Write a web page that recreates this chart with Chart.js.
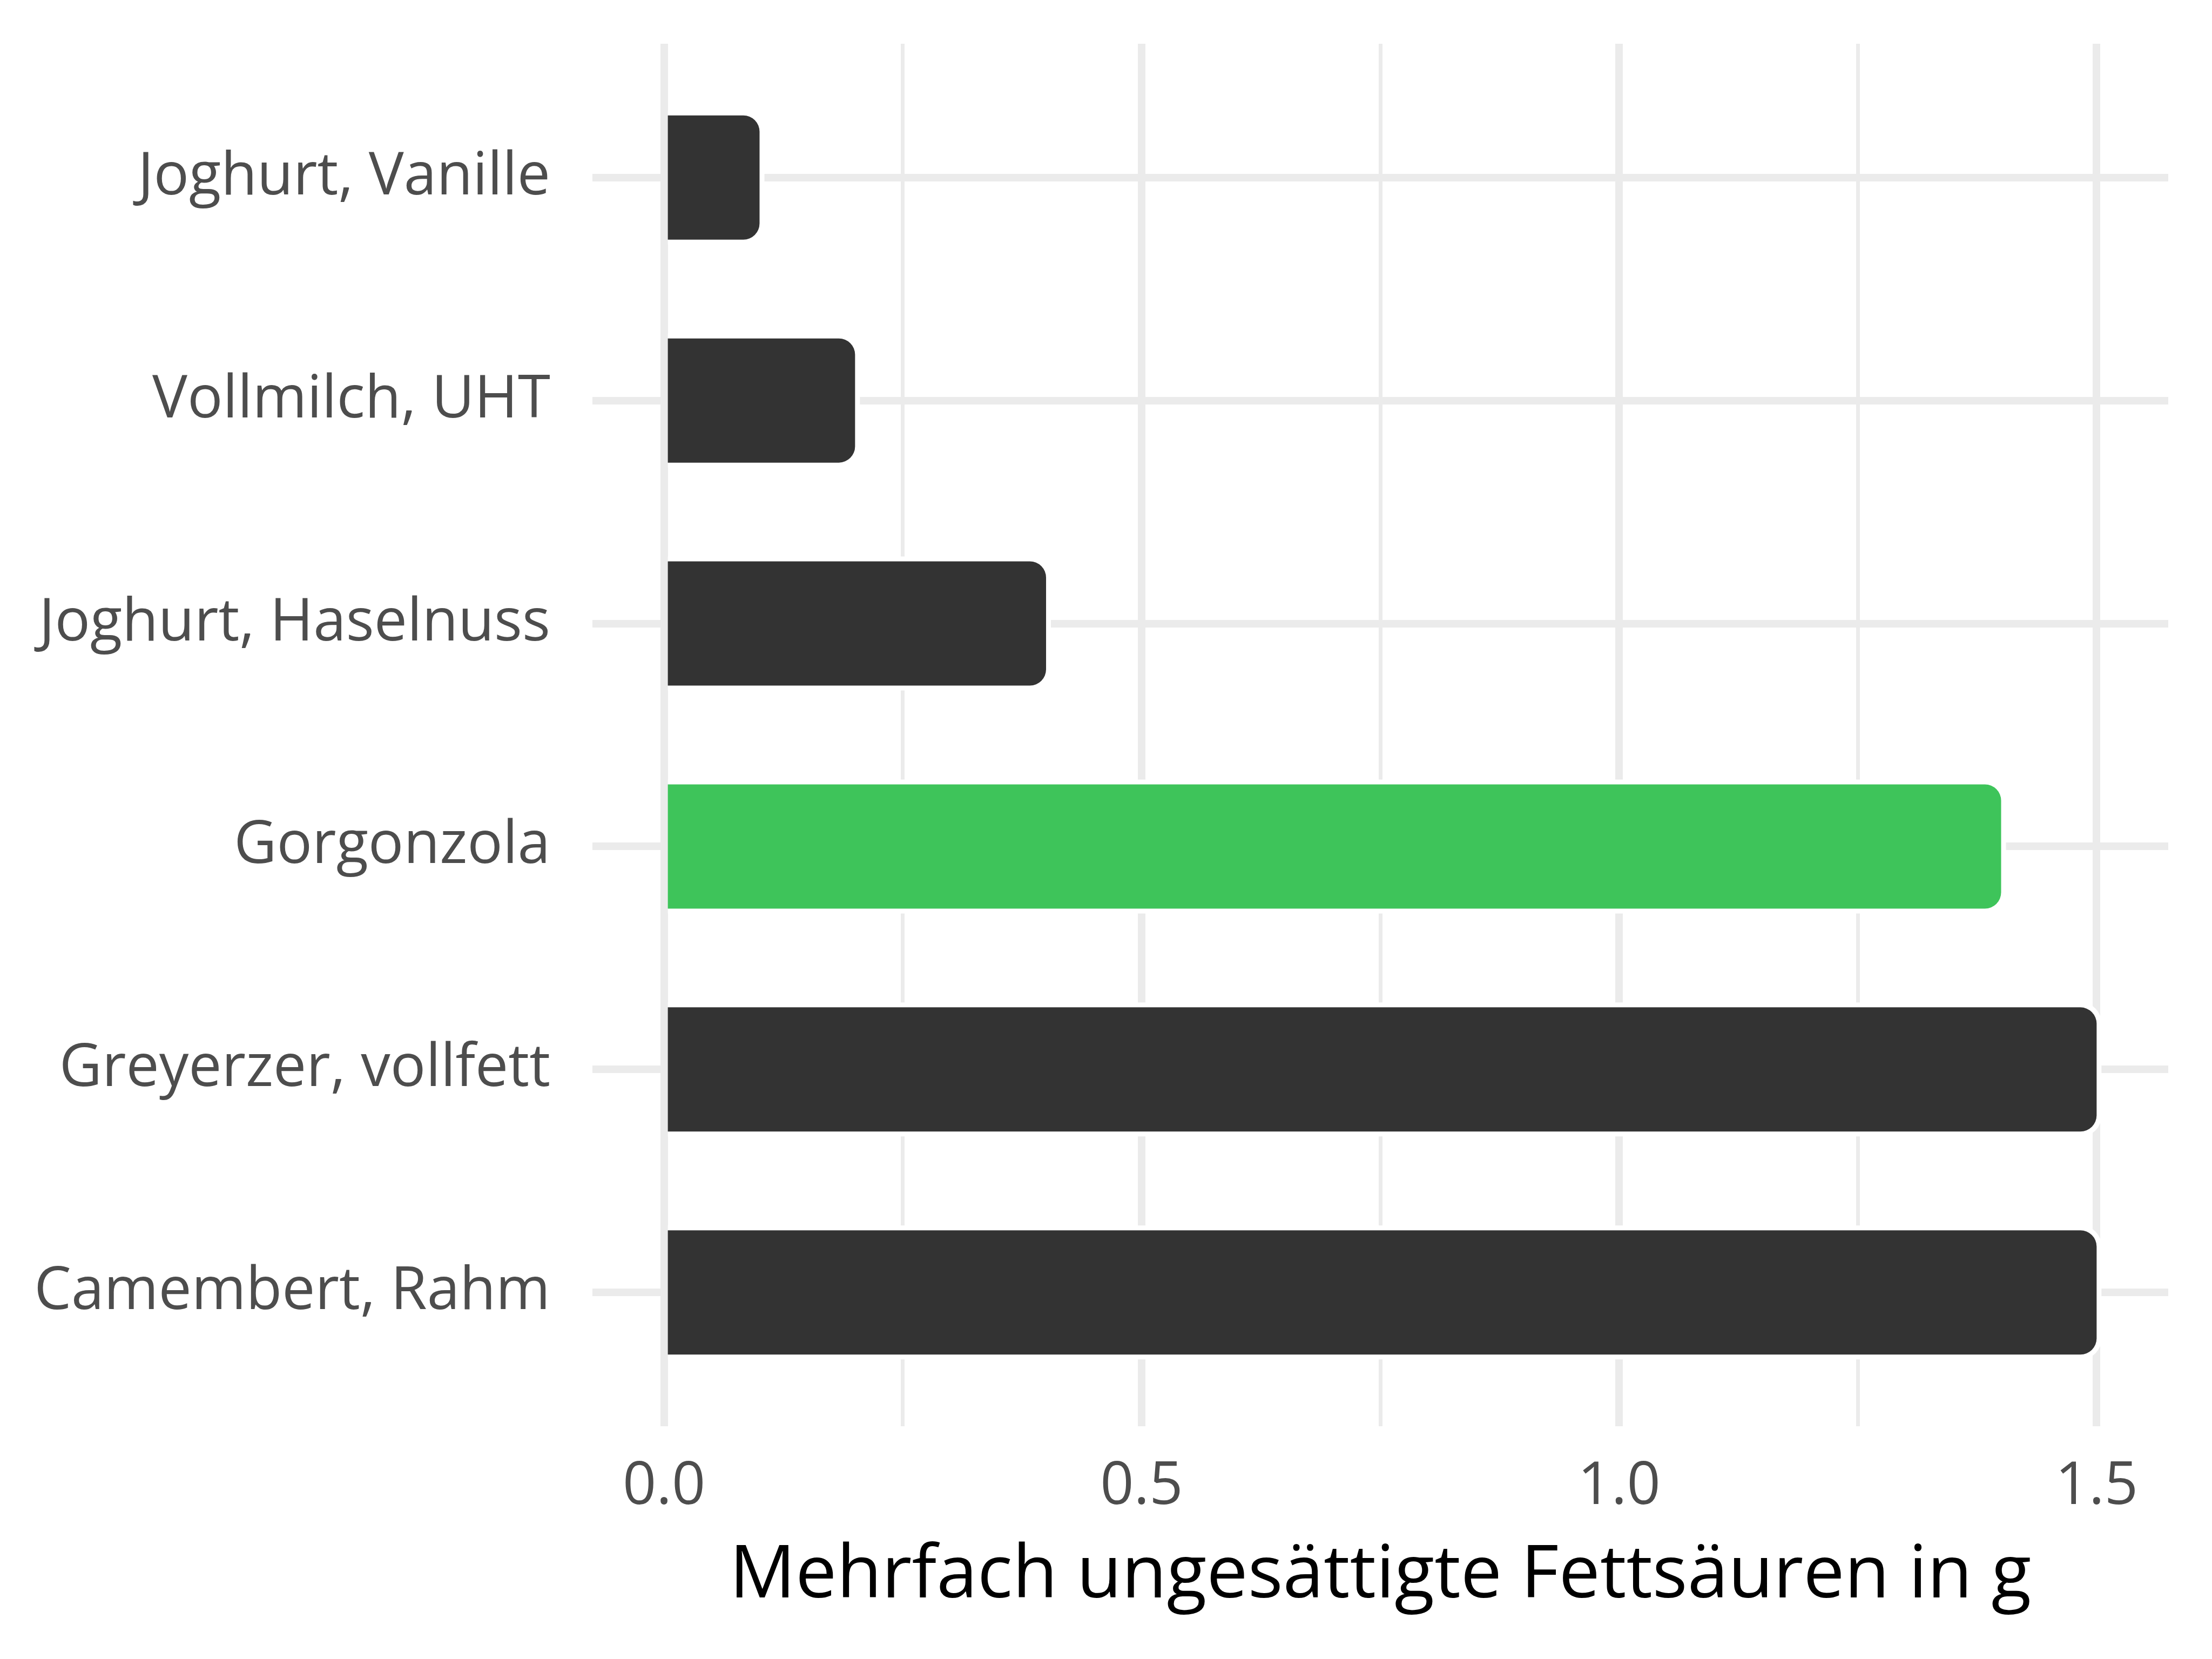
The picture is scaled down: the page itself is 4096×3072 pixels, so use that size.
<!DOCTYPE html>
<html>
<head>
<meta charset="utf-8">
<script src="https://cdn.jsdelivr.net/npm/chart.js@4/dist/chart.umd.min.js"></script>
<style>
  html, body { margin: 0; padding: 0; background: #ffffff; }
  #wrap { width: 4096px; height: 3072px; }
</style>
</head>
<body>
<div id="wrap"><canvas id="fatChart" width="4096" height="3072"></canvas></div>
<script>
// Daten
const categories = ['Joghurt, Vanille', 'Vollmilch, UHT', 'Joghurt, Haselnuss', 'Gorgonzola', 'Greyerzer, vollfett', 'Camembert, Rahm'];
const values = [0.1, 0.2, 0.4, 1.4, 1.5, 1.5];
const barColors = ['#333333', '#333333', '#333333', '#3ec45a', '#333333', '#333333'];
const xTicks = [0, 0.25, 0.5, 0.75, 1.0, 1.25, 1.5];
const xTitle = 'Mehrfach ungesättigte Fettsäuren in g';

const labelFont = { family: 'Open Sans', size: 109 };

// weisser Rand um die Balken (wie bei ggplot)
const haloPlugin = {
    id: 'halo',
    beforeDatasetsDraw(chart) {
        const ctx = chart.ctx;
        const pad = 9;
        ctx.save();
        ctx.fillStyle = '#ffffff';
        chart.getDatasetMeta(0).data.forEach(bar => {
            const p = bar.getProps(['x', 'y', 'base', 'height'], true);
            ctx.beginPath();
            ctx.roundRect(p.base, p.y - p.height / 2 - pad, p.x - p.base + pad, p.height + 2 * pad, [0, 38, 38, 0]);
            ctx.fill();
        });
        ctx.restore();
    }
};

const ctx = document.getElementById('fatChart').getContext('2d');
new Chart(ctx, {
    type: 'bar',
    data: {
        datasets: [{
            data: values.map((v, i) => ({ x: v, y: i })),
            backgroundColor: barColors,
            borderWidth: 0,
            borderRadius: 30,
            categoryPercentage: 1.0,
            barPercentage: 0.557
        }]
    },
    options: {
        indexAxis: 'y',
        responsive: false,
        animation: false,
        devicePixelRatio: 1,
        layout: { padding: { top: 81, right: 81, left: 0, bottom: 0 } },
        plugins: {
            legend: { display: false },
            tooltip: { enabled: false }
        },
        scales: {
            x: {
                type: 'linear',
                min: -0.075,
                max: 1.575,
                afterBuildTicks: axis => { axis.ticks = xTicks.map(v => ({ value: v })); },
                afterFit: axis => {
                    axis.height = 431;
                    axis.paddingLeft = 0;
                    axis.paddingRight = 0;
                },
                border: { display: false },
                grid: {
                    color: '#ebebeb',
                    drawTicks: false,
                    lineWidth: c => (c.tick && c.tick.value % 0.5 === 0) ? 14 : 7
                },
                ticks: {
                    color: '#4d4d4d',
                    font: labelFont,
                    padding: 48,
                    maxRotation: 0,
                    callback: v => v % 0.5 === 0 ? v.toFixed(1) : ''
                },
                title: {
                    display: true,
                    text: xTitle,
                    color: '#000000',
                    font: { family: 'Open Sans', size: 136 },
                    padding: { top: 0, bottom: 71 }
                }
            },
            y: {
                type: 'linear',
                reverse: true,
                offset: false,
                min: -0.6,
                max: 5.6,
                afterBuildTicks: axis => { axis.ticks = categories.map((c, i) => ({ value: i })); },
                afterFit: axis => {
                    axis.width = 1097;
                    axis.paddingTop = 0;
                    axis.paddingBottom = 0;
                },
                border: { display: false },
                grid: {
                    offset: false,
                    color: '#ebebeb',
                    drawTicks: false,
                    lineWidth: 14
                },
                ticks: {
                    color: '#4d4d4d',
                    font: labelFont,
                    padding: 78,
                    callback: v => categories[v]
                }
            }
        }
    },
    plugins: [haloPlugin]
});
</script>
</body>
</html>
